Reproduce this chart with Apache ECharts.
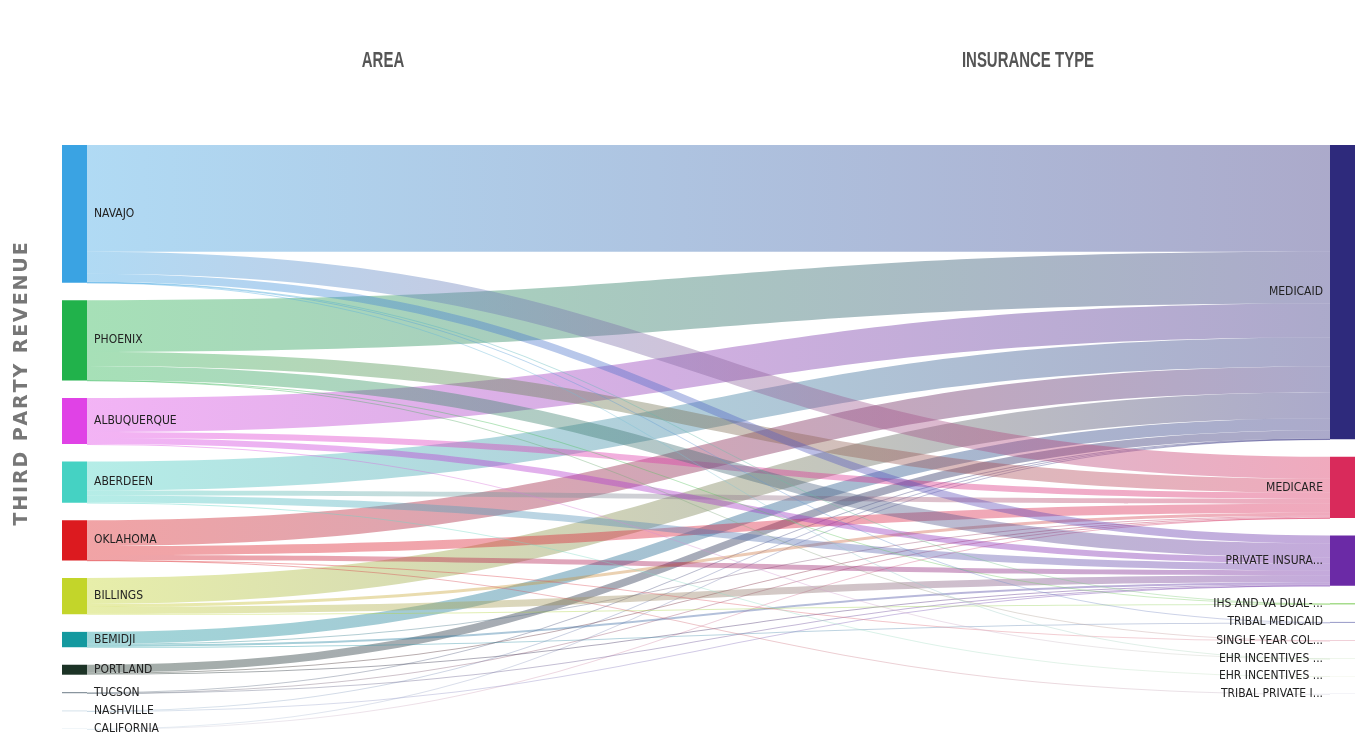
<!DOCTYPE html>
<html>
<head>
<meta charset="utf-8">
<title>Third Party Revenue</title>
<script src="https://cdn.jsdelivr.net/npm/echarts@6/dist/echarts.min.js"></script>
<style>
  html, body { margin: 0; padding: 0; background: #fff; }
  #sankey { width: 1370px; height: 750px; }
</style>
</head>
<body>
<div id="sankey"></div>
<script>
// left column (areas)
const areas = ['NAVAJO', 'PHOENIX', 'ALBUQUERQUE', 'ABERDEEN', 'OKLAHOMA', 'BILLINGS',
  'BEMIDJI', 'PORTLAND', 'TUCSON', 'NASHVILLE', 'CALIFORNIA'];
const areaColors = ['#3aa3e3', '#21b24b', '#e042e6', '#45d2c3', '#dc1a1f', '#c3d52a',
  '#14999f', '#1c3326', '#6a7a85', '#a9c4d6', '#cfe0ea'];

// right column (insurance types)
const insuranceTypes = ['MEDICAID', 'MEDICARE', 'PRIVATE INSURANCE', 'IHS AND VA DUAL-ELIGIBLE',
  'TRIBAL MEDICAID', 'SINGLE YEAR COLLECTIONS', 'EHR INCENTIVES MEDICAID',
  'EHR INCENTIVES MEDICARE', 'TRIBAL PRIVATE INSURANCE'];
const typeLabels = ['MEDICAID', 'MEDICARE', 'PRIVATE INSURA...', 'IHS AND VA DUAL-...',
  'TRIBAL MEDICAID', 'SINGLE YEAR COL...', 'EHR INCENTIVES ...', 'EHR INCENTIVES ...',
  'TRIBAL PRIVATE I...'];
const typeColors = ['#2e2a7c', '#d92a5b', '#6b2aa6', '#8fd36f', '#8a8cc0', '#e0a0b0',
  '#c8e0c0', '#d8e4c8', '#c8c8d8'];

// revenue per area, one array per insurance type (same order as areas)
const medicaid       = [107, 52, 34, 29, 26, 26, 12, 8, 0.6, 0.3, 0.2];
const medicare       = [22, 14, 6, 5, 9, 3, 1, 1, 0.2, 0, 0.1];
const privateIns     = [8, 14, 6, 7, 5, 7, 2, 1, 0.2, 0.2, 0];
const ihsVaDual      = [0.3, 0.4, 0, 0, 0, 0.5, 0, 0, 0, 0, 0];
const tribalMedicaid = [0.5, 0, 0, 0, 0, 0, 0.4, 0, 0, 0, 0];
const singleYear     = [0, 0.3, 0, 0, 0.2, 0, 0, 0, 0, 0, 0];
const ehrMedicaid    = [0.2, 0, 0.1, 0, 0, 0, 0, 0, 0, 0, 0];
const ehrMedicare    = [0, 0, 0, 0.2, 0, 0, 0, 0, 0, 0, 0];
const tribalPrivate  = [0, 0, 0, 0, 0.2, 0, 0, 0, 0, 0, 0];

const flows = [medicaid, medicare, privateIns, ihsVaDual, tribalMedicaid,
  singleYear, ehrMedicaid, ehrMedicare, tribalPrivate];

const labelFont = "'DejaVu Sans Condensed', 'Liberation Sans Narrow', 'Roboto', sans-serif";

let nodes = [];
areas.forEach((name, i) => {
  nodes.push({
    name: name,
    itemStyle: { color: areaColors[i] },
    label: { position: 'right', distance: 7 }
  });
});
insuranceTypes.forEach((name, i) => {
  nodes.push({
    name: name,
    itemStyle: { color: typeColors[i] },
    label: { position: 'left', distance: 7, formatter: typeLabels[i] }
  });
});

let links = [];
flows.forEach((arr, t) => {
  arr.forEach((v, a) => {
    if (v > 0) {
      links.push({ source: areas[a], target: insuranceTypes[t], value: v });
    }
  });
});

let myChart = echarts.init(document.getElementById('sankey'));
let option = {
  backgroundColor: '#fff',
  animation: false,
  graphic: [
    {
      // column headers, squeezed horizontally to look condensed
      type: 'text', x: 383, y: 61, scaleX: 0.68,
      style: { text: 'AREA', fill: '#555', font: "bold 22px 'Liberation Sans', sans-serif", align: 'center', verticalAlign: 'middle' }
    },
    {
      type: 'text', x: 1028, y: 61, scaleX: 0.68,
      style: { text: 'INSURANCE TYPE', fill: '#555', font: "bold 22px 'Liberation Sans', sans-serif", align: 'center', verticalAlign: 'middle' }
    },
    {
      type: 'text',
      x: 22, y: 384,
      rotation: Math.PI / 2,
      style: {
        text: 'T\u200AH\u200AI\u200AR\u200AD\u2009 P\u200AA\u200AR\u200AT\u200AY\u2009 R\u200AE\u200AV\u200AE\u200AN\u200AU\u200AE',
        fill: '#777',
        font: "bold 19px 'DejaVu Sans', sans-serif",
        align: 'center',
        verticalAlign: 'middle'
      }
    }
  ],
  series: [{
    type: 'sankey',
    left: 62,
    right: 15,
    top: 145,
    bottom: 21,
    nodeWidth: 25,
    nodeGap: 17.5,
    layoutIterations: 0,
    draggable: false,
    emphasis: { disabled: true },
    data: nodes,
    links: links,
    itemStyle: { borderWidth: 0 },
    label: {
      color: '#222',
      fontSize: 12,
      fontFamily: labelFont
    },
    lineStyle: {
      color: 'gradient',
      opacity: 0.4,
      curveness: 0.5
    }
  }]
};
myChart.setOption(option);
</script>
</body>
</html>
